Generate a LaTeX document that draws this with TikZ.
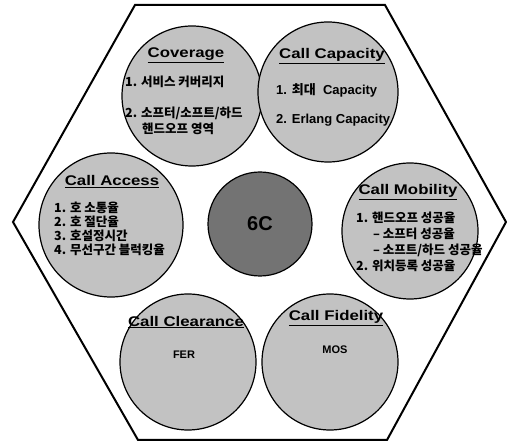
\documentclass[tikz,border=0pt]{standalone}
\usepackage{fontspec}
\setmainfont{Liberation Sans}
\newfontfamily\kr{Noto Sans CJK KR}
\newfontfamily\ttlfont{Liberation Sans Bold}[FakeStretch=1.2]
\begin{document}
\begin{tikzpicture}[x=1pt,y=-1pt,
  cell/.style={circle,draw=black,line width=1.2pt,fill=black!24,inner sep=0pt},
  hub/.style={circle,draw=black,line width=1.2pt,fill=black!55,inner sep=0pt,minimum size=104pt},
  ttl/.style={font=\ttlfont\fontsize{14}{16}\selectfont,inner sep=1pt},
  itm/.style={anchor=west,font=\bfseries\fontsize{13}{15}\selectfont,inner sep=0pt},
  kitm/.style={anchor=west,font=\kr\bfseries\fontsize{12.5}{14}\selectfont,inner sep=0pt},
  lbl/.style={font=\bfseries\fontsize{11}{13}\selectfont,inner sep=0pt}]
\useasboundingbox (0,0) rectangle (507,443);
% hexagon
\draw[line width=2pt,line join=miter,fill=white]
  (135,5) -- (385,5) -- (506,222) -- (387,440) -- (138,440) -- (13,222) -- cycle;
% circles
\node[cell,minimum size=140pt] (cov) at (192,96) {};
\node[cell,minimum size=140pt] (cap) at (328,92) {};
\node[cell,minimum size=144pt] (acc) at (111,225) {};
\node[cell,minimum size=136pt] (mob) at (410,231) {};
\node[cell,minimum size=136pt] (clr) at (188,362) {};
\node[cell,minimum size=136pt] (fid) at (330,362) {};
\node[hub] (six) at (260,224) {};
\node[font=\bfseries\fontsize{20}{22}\selectfont] (sixc) at (six.center) {6C};
% Coverage
\node[ttl] (tcov) at (186,55) {\underline{Coverage}};
\node[kitm] (cov1) at (125,82) {1. 서비스 커버리지};
\node[kitm] (cov2) at (125,113) {2. 소프터/소프트/하드};
\node[kitm] (cov3) at (142,129) {핸드오프 영역};
% Call Capacity
\node[ttl] (tcap) at (332,56) {\underline{Call Capacity}};
\node[itm] (cap1) at (276,90) {1. {\kr 최대}\ \ Capacity};
\node[itm] (cap2) at (276,120) {2. Erlang Capacity};
% Call Access
\node[ttl] (tacc) at (112,182) {\underline{Call Access}};
\node[kitm] (acc1) at (54,208) {1. 호 소통율};
\node[kitm] (acc2) at (54,222) {2. 호 절단율};
\node[kitm] (acc3) at (54,236) {3. 호설정시간};
\node[kitm] (acc4) at (54,250) {4. 무선구간 블럭킹율};
% Call Mobility
\node[ttl] (tmob) at (408,192) {\underline{Call Mobility}};
\node[kitm] (mob1) at (356,218) {1. 핸드오프 성공율};
\node[kitm] (mob2) at (373,234) {– 소프터 성공율};
\node[kitm] (mob3) at (373,250) {– 소프트/하드 성공율};
\node[kitm] (mob4) at (356,266) {2. 위치등록 성공율};
% Call Clearance
\node[ttl] (tclr) at (186,322) {\underline{Call Clearance}};
\node[lbl] (fer) at (184,355) {FER};
% Call Fidelity
\node[ttl] (tfid) at (336,318) {\underline{Call Fidelity}};
\node[lbl] (mos) at (335,350) {MOS};
\end{tikzpicture}
\end{document}
